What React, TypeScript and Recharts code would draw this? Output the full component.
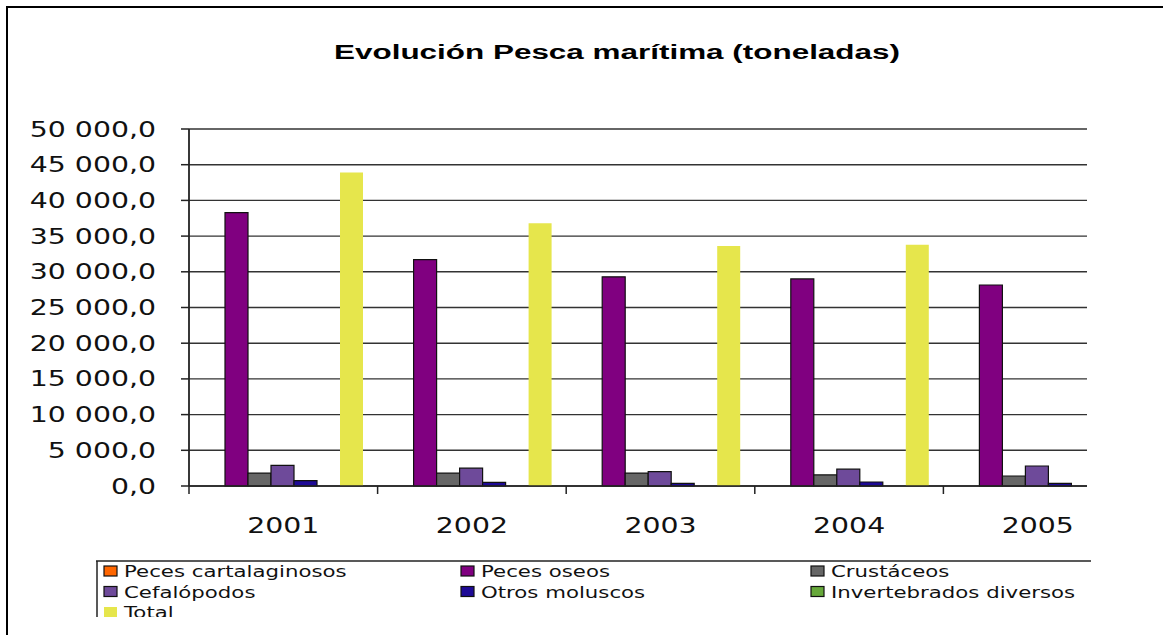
import React from 'react';
import { BarChart, Bar, XAxis, YAxis, CartesianGrid } from 'recharts';

const categories = ['2001', '2002', '2003', '2004', '2005'];
const pecesCartalaginosos = [0, 0, 0, 0, 0];
const pecesOseos = [38300, 31700, 29300, 29000, 28150];
const crustaceos = [1800, 1800, 1800, 1550, 1400];
const cefalopodos = [2900, 2500, 2000, 2350, 2800];
const otrosMoluscos = [750, 500, 370, 560, 380];
const invertebradosDiversos = [0, 0, 0, 0, 0];
const total: (number | null)[] = [43900, 36800, 33600, 33800, null];

const yTicks = [0, 5000, 10000, 15000, 20000, 25000, 30000, 35000, 40000, 45000, 50000];

const seriesKeys = ['cart', 'oseos', 'crus', 'cefa', 'otros', 'inv', 'total'];
const seriesNames = [
  'Peces cartalaginosos',
  'Peces oseos',
  'Crustáceos',
  'Cefalópodos',
  'Otros moluscos',
  'Invertebrados diversos',
  'Total',
];
const seriesColors = ['#FF6600', '#800080', '#666666', '#6E4A9A', '#1E0A96', '#66A83A', '#E6E64C'];
const seriesValues = [
  pecesCartalaginosos,
  pecesOseos,
  crustaceos,
  cefalopodos,
  otrosMoluscos,
  invertebradosDiversos,
  total,
];

const data = categories.map((c, i) => {
  const row: any = { year: c };
  seriesKeys.forEach((k, j) => {
    row[k] = seriesValues[j][i];
  });
  return row;
});

const FONT = 'DejaVu Sans, Verdana, sans-serif';
const STRETCH = 1.35;

const fmt = (v: number) => {
  const [intPart, dec] = v.toFixed(1).split('.');
  const withSpaces = intPart.replace(/\B(?=(\d{3})+(?!\d))/g, ' ');
  return `${withSpaces},${dec}`;
};

const YTick = (props: any) => {
  const { x, y, payload } = props;
  return (
    <g transform={`translate(${x},${y})`}>
      <text
        transform={`scale(${STRETCH},1)`}
        textAnchor="end"
        dy={7.5}
        fontSize={21}
        fontFamily={FONT}
        fill="#111"
      >
        {fmt(payload.value)}
      </text>
    </g>
  );
};

const XTick = (props: any) => {
  const { x, y, payload } = props;
  const half = payload && payload.offset ? payload.offset : 0;
  return (
    <g>
      <line x1={x - half} x2={x - half} y1={y} y2={y + 8} stroke="#222" strokeWidth={1.5} />
      <g transform={`translate(${x},${y + 47})`}>
        <text transform={`scale(${STRETCH},1)`} textAnchor="middle" fontSize={21} fontFamily={FONT} fill="#111">
          {payload.value}
        </text>
      </g>
    </g>
  );
};

const legendCols = [104, 461, 811];
const legendRows = [566, 586.5, 607];

export default function App() {
  return (
    <div
      style={{
        position: 'fixed',
        left: 0,
        top: 0,
        width: 1163,
        height: 635,
        background: '#fff',
        overflow: 'hidden',
      }}
    >
      <BarChart
        width={1163}
        height={635}
        data={data}
        margin={{ top: 129, right: 76, left: 0, bottom: 0 }}
        barCategoryGap={13}
        barGap={0}
      >
        <CartesianGrid vertical={false} stroke="#333" strokeWidth={1.4} />
        <XAxis
          dataKey="year"
          height={149}
          padding={{ left: 0, right: -45 }}
          tickLine={false}
          tickSize={0}
          tickMargin={0}
          axisLine={{ stroke: '#222', strokeWidth: 1.5 }}
          tick={<XTick />}
          interval={0}
        />
        <YAxis
          type="number"
          width={189}
          domain={[0, 50000]}
          ticks={yTicks}
          interval={0}
          tickSize={8}
          tickMargin={25}
          tickLine={{ stroke: '#222', strokeWidth: 1.5 }}
          axisLine={{ stroke: '#222', strokeWidth: 1.8 }}
          tick={<YTick />}
        />
        {seriesKeys.map((k, j) => (
          <Bar
            key={k}
            dataKey={k}
            name={seriesNames[j]}
            fill={seriesColors[j]}
            stroke={k === 'total' ? 'none' : '#111'}
            strokeWidth={1.2}
            isAnimationActive={false}
          />
        ))}
      </BarChart>
      <svg
        width={1163}
        height={635}
        style={{ position: 'absolute', left: 0, top: 0, pointerEvents: 'none' }}
      >
        <defs>
          <clipPath id="legendClip">
            <rect x={0} y={0} width={1163} height={617} />
          </clipPath>
        </defs>
        <line x1={6} x2={1163} y1={7} y2={7} stroke="#000" strokeWidth={2} />
        <line x1={7} x2={7} y1={6} y2={635} stroke="#000" strokeWidth={2} />
        <text
          x={617}
          y={59}
          textAnchor="middle"
          fontFamily="Liberation Sans, Arial, sans-serif"
          fontWeight="bold"
          fontSize={20}
          textLength={566}
          lengthAdjust="spacingAndGlyphs"
          fill="#000"
        >
          Evolución Pesca marítima (toneladas)
        </text>
        <g clipPath="url(#legendClip)">
          <line x1={96} x2={1091} y1={561} y2={561} stroke="#222" strokeWidth={1.5} />
          <line x1={97} x2={97} y1={561} y2={635} stroke="#222" strokeWidth={1.5} />
          {seriesNames.map((n, j) => {
            const col = legendCols[j % 3];
            const row = legendRows[Math.floor(j / 3)];
            return (
              <g key={n}>
                <rect
                  x={col}
                  y={row}
                  width={13}
                  height={10}
                  fill={seriesColors[j]}
                  stroke={seriesKeys[j] === 'total' ? 'none' : '#111'}
                  strokeWidth={1.2}
                />
                <g transform={`translate(${col + 20},${row + 11})`}>
                  <text transform={`scale(1.33,1)`} fontSize={16} fontFamily={FONT} fill="#111">
                    {n}
                  </text>
                </g>
              </g>
            );
          })}
        </g>
      </svg>
    </div>
  );
}
